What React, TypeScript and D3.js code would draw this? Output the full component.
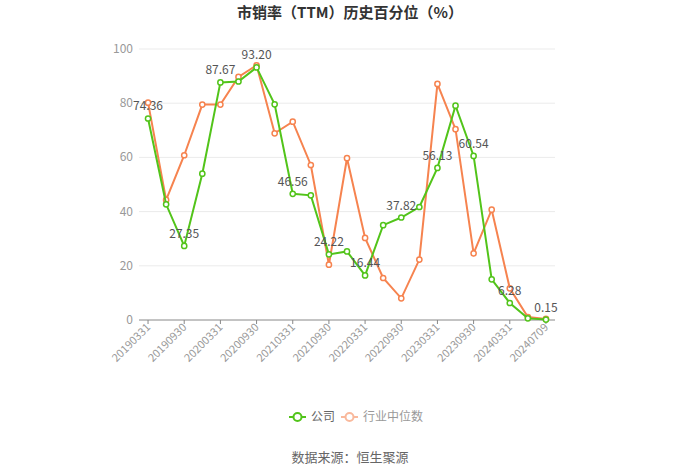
import React from "react";
import * as d3 from "d3";

const dates = [
  "20190331","20190630","20190930","20191231",
  "20200331","20200630","20200930","20201231",
  "20210331","20210630","20210930","20211231",
  "20220331","20220630","20220930","20221231",
  "20230331","20230630","20230930","20231231",
  "20240331","20240630","20240709",
];
const company = [74.36,42.7,27.35,54.0,87.67,88.0,93.2,79.6,46.56,46.0,24.22,25.3,16.44,35.0,37.82,41.7,56.13,79.1,60.54,15.0,6.28,0.6,0.15];
const industry = [80.2,44.3,60.8,79.5,79.5,89.7,94.0,68.9,73.2,57.2,20.4,59.7,30.3,15.5,8.0,22.3,87.1,70.4,24.6,40.7,11.7,1.1,0.4];
const labeledIdx = [0,2,4,6,8,10,12,14,16,18,20,22];
const yTicks = [0,20,40,60,80,100];
const seriesNames = ["公司","行业中位数"];
const title = "市销率（TTM）历史百分位（%）";
const source = "数据来源：恒生聚源";

const GREEN = "#52c41a";
const ORANGE = "#f6834f";
const FONT = "'Microsoft YaHei','Noto Sans CJK SC','Noto Sans',sans-serif";

export default function App() {
  const W = 700, H = 473;
  const left = 139, right = 555, top = 49, bottom = 320;
  const x = d3.scaleBand<string>().domain(dates).range([left, right]);
  const cx = (d: string) => (x(d) as number) + x.bandwidth() / 2;
  const y = d3.scaleLinear().domain([0, 100]).range([bottom, top]);
  const line = d3.line<number>().x((_, i) => cx(dates[i])).y((v) => y(v));

  const renderSeries = (vals: number[], color: string, labels: boolean) => (
    <g>
      <path d={line(vals) || ""} fill="none" stroke={color} strokeWidth={2} />
      {vals.map((v, i) => (
        <circle key={i} cx={cx(dates[i])} cy={y(v)} r={2.6} fill="#fff" stroke={color} strokeWidth={1.5} />
      ))}
      {labels && labeledIdx.map((i) => (
        <text key={"l" + i} x={cx(dates[i])} y={y(company[i]) - 8} textAnchor="middle" fontSize={12} fill="#555">
          {company[i].toFixed(2)}
        </text>
      ))}
    </g>
  );

  return (
    <svg width={W} height={H} style={{ position: "absolute", left: 0, top: 0, fontFamily: FONT }}>
      <rect width={W} height={H} fill="#fff" />
      <text x={350} y={18} textAnchor="middle" fontSize={15} fontWeight="bold" fill="#333">{title}</text>
      {yTicks.map((t) => (
        <g key={t}>
          {t > 0 && <line x1={left} x2={right} y1={y(t)} y2={y(t)} stroke="#ebebeb" strokeWidth={1} />}
          <text x={133} y={y(t) + 4} textAnchor="end" fontSize={12} fill="#999">{t}</text>
        </g>
      ))}
      <line x1={left} x2={right} y1={bottom} y2={bottom} stroke="#888" strokeWidth={1} />
      {labeledIdx.map((i) => (
        <g key={i}>
          <line x1={cx(dates[i])} x2={cx(dates[i])} y1={bottom} y2={bottom + 4} stroke="#888" />
          <text
            transform={`translate(${cx(dates[i]) + 3},${bottom + 8}) rotate(-45)`}
            textAnchor="end"
            fontSize={11}
            fill="#999"
          >
            {dates[i]}
          </text>
        </g>
      ))}
      {renderSeries(industry, ORANGE, false)}
      {renderSeries(company, GREEN, true)}
      <g>
        <line x1={289} x2={306} y1={417} y2={417} stroke={GREEN} strokeWidth={2} />
        <circle cx={297.5} cy={417} r={4} fill="#fff" stroke={GREEN} strokeWidth={2} />
        <text x={311} y={421} fontSize={12} fill="#666">{seriesNames[0]}</text>
        <line x1={341} x2={358} y1={417} y2={417} stroke="#f9b99c" strokeWidth={2} />
        <circle cx={349.5} cy={417} r={4} fill="#fff" stroke="#f9b99c" strokeWidth={2} />
        <text x={363} y={421} fontSize={12} fill="#999">{seriesNames[1]}</text>
      </g>
      <text x={350} y={462} textAnchor="middle" fontSize={13} fill="#666">{source}</text>
    </svg>
  );
}
